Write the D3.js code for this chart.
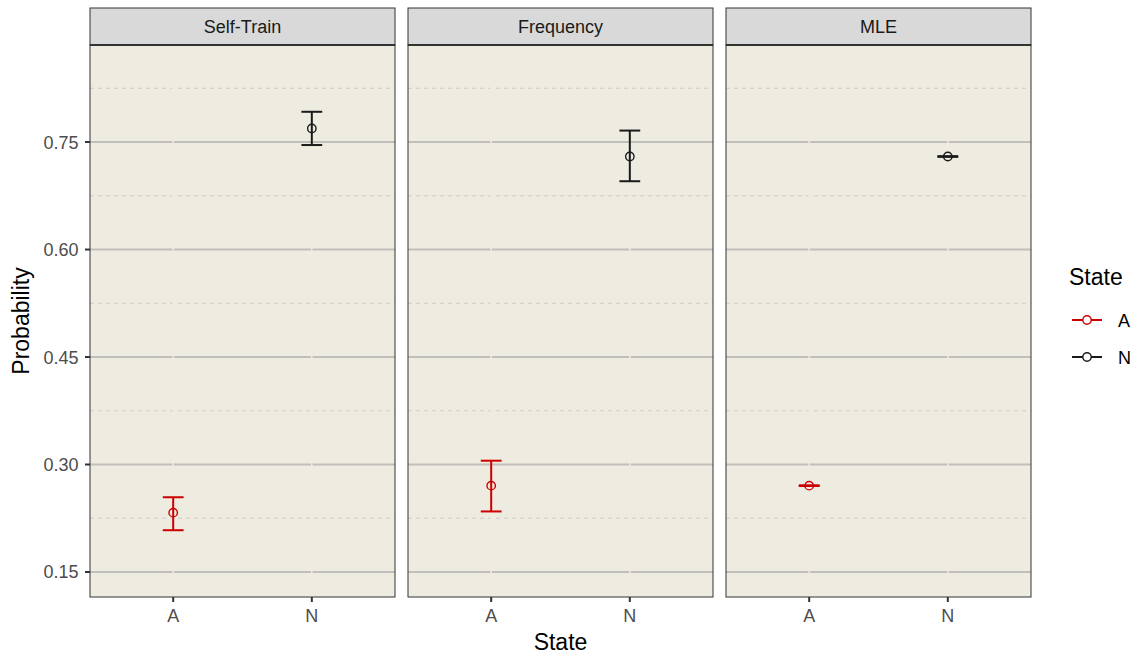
<!DOCTYPE html>
<html>
<head>
<meta charset="utf-8">
<script src="https://cdn.jsdelivr.net/npm/d3@7"></script>
<style>
  body { margin: 0; background: #fff; }
  svg { display: block; font-family: "Liberation Sans", Arial, sans-serif; }
</style>
</head>
<body>
<svg id="chart" width="1136" height="655"></svg>
<script>
// Facets, categories and estimates with interval bounds
const methods = ["Self-Train", "Frequency", "MLE"];
const states = ["A", "N"];
const estimate = [
  [0.2328, 0.7690],
  [0.2705, 0.7298],
  [0.2705, 0.7298]
];
const lower = [
  [0.2083, 0.7458],
  [0.2345, 0.6953],
  [0.2700, 0.7293]
];
const upper = [
  [0.2543, 0.7922],
  [0.3053, 0.7660],
  [0.2710, 0.7303]
];
const yTicks = [0.15, 0.30, 0.45, 0.60, 0.75];
const yMinor = [0.225, 0.375, 0.525, 0.675, 0.825];
const stateColors = { A: "#cc0000", N: "#1a1a1a" };

const svg = d3.select("#chart");

const panelLeft = [90, 408, 726];
const panelW = 305;
const stripTop = 8, stripBottom = 45, plotBottom = 597;

const y = d3.scaleLinear().domain([0.1151, 0.8854]).range([plotBottom, stripBottom]);
const xPos = d3.scaleLinear().domain([0.4, 2.6]).range([0, panelW]);
const capHalf = xPos(1.075) - xPos(1);

methods.forEach((m, i) => {
  const g = svg.append("g").attr("transform", `translate(${panelLeft[i]},0)`);
  const x = v => xPos(states.indexOf(v) + 1);

  // panel background
  g.append("rect").attr("x", 0).attr("y", stripBottom).attr("width", panelW)
    .attr("height", plotBottom - stripBottom).attr("fill", "#eeebe0");

  // minor grid
  g.selectAll("line.minor").data(yMinor).join("line")
    .attr("x1", 0).attr("x2", panelW)
    .attr("y1", d => y(d)).attr("y2", d => y(d))
    .attr("stroke", "#cfcdc6").attr("stroke-width", 1)
    .attr("stroke-dasharray", "4,4");

  // major grid
  g.selectAll("line.major").data(yTicks).join("line")
    .attr("x1", 0).attr("x2", panelW)
    .attr("y1", d => y(d)).attr("y2", d => y(d))
    .attr("stroke", "#c0bfbb").attr("stroke-width", 2);

  // faint vertical grid
  g.selectAll("line.vgrid").data(states).join("line")
    .attr("x1", d => x(d)).attr("x2", d => x(d))
    .attr("y1", stripBottom).attr("y2", plotBottom)
    .attr("stroke", "#efece3").attr("stroke-width", 1.5);

  // error bars
  states.forEach((s, j) => {
    const cx = x(s);
    const col = stateColors[s];
    const eb = g.append("g").attr("stroke", col).attr("stroke-width", 2).attr("fill", "none");
    eb.append("line").attr("x1", cx).attr("x2", cx).attr("y1", y(lower[i][j])).attr("y2", y(upper[i][j]));
    eb.append("line").attr("x1", cx - capHalf).attr("x2", cx + capHalf).attr("y1", y(lower[i][j])).attr("y2", y(lower[i][j]));
    eb.append("line").attr("x1", cx - capHalf).attr("x2", cx + capHalf).attr("y1", y(upper[i][j])).attr("y2", y(upper[i][j]));
    g.append("circle").attr("cx", cx).attr("cy", y(estimate[i][j])).attr("r", 4.2)
      .attr("fill", "none").attr("stroke", col).attr("stroke-width", 1.4);
  });

  // panel border
  g.append("rect").attr("x", 0).attr("y", stripBottom).attr("width", panelW)
    .attr("height", plotBottom - stripBottom).attr("fill", "none").attr("stroke", "#333").attr("stroke-width", 1);

  // strip
  g.append("rect").attr("x", 0).attr("y", stripTop).attr("width", panelW)
    .attr("height", stripBottom - stripTop).attr("fill", "#d9d9d9").attr("stroke", "#333").attr("stroke-width", 1);
  g.append("line").attr("x1", 0).attr("x2", panelW).attr("y1", stripBottom).attr("y2", stripBottom)
    .attr("stroke", "#333").attr("stroke-width", 2);
  g.append("text").attr("x", panelW / 2).attr("y", 33)
    .attr("text-anchor", "middle").attr("font-size", 18).attr("fill", "#1a1a1a").text(m);

  // x axis
  const xa = g.append("g").attr("transform", `translate(0,${plotBottom})`);
  states.forEach(s => {
    xa.append("line").attr("x1", x(s)).attr("x2", x(s)).attr("y1", 0).attr("y2", 5)
      .attr("stroke", "#333").attr("stroke-width", 2);
    xa.append("text").attr("x", x(s)).attr("y", 25).attr("text-anchor", "middle")
      .attr("font-size", 18).attr("fill", "#4d4d4d").text(s);
  });
});

// y axis
const ya = svg.append("g").attr("transform", `translate(${panelLeft[0]},0)`);
yTicks.forEach(t => {
  ya.append("line").attr("x1", -5).attr("x2", 0).attr("y1", y(t)).attr("y2", y(t))
    .attr("stroke", "#333").attr("stroke-width", 2);
  ya.append("text").attr("x", -11.5).attr("y", y(t) + 6.5).attr("text-anchor", "end")
    .attr("font-size", 18).attr("fill", "#4d4d4d").text(t.toFixed(2));
});

// axis titles
svg.append("text").attr("x", (panelLeft[0] + panelLeft[2] + panelW) / 2).attr("y", 650)
  .attr("text-anchor", "middle").attr("font-size", 23).attr("fill", "#000").text("State");
svg.append("text").attr("transform", `translate(29,${(stripBottom + plotBottom) / 2}) rotate(-90)`)
  .attr("text-anchor", "middle").attr("font-size", 23).attr("fill", "#000").text("Probability");

// legend
const lg = svg.append("g").attr("transform", "translate(1068,0)");
lg.append("text").attr("x", 1).attr("y", 285).attr("font-size", 23).attr("fill", "#000").text("State");
states.forEach((s, k) => {
  const ly = 320 + k * 37;
  lg.append("line").attr("x1", 4).attr("x2", 34).attr("y1", ly).attr("y2", ly)
    .attr("stroke", stateColors[s]).attr("stroke-width", 2);
  lg.append("circle").attr("cx", 19).attr("cy", ly).attr("r", 4.2)
    .attr("fill", "#fff").attr("stroke", stateColors[s]).attr("stroke-width", 1.4);
  lg.append("text").attr("x", 50).attr("y", ly + 7).attr("font-size", 18).attr("fill", "#000").text(s);
});
</script>
</body>
</html>
